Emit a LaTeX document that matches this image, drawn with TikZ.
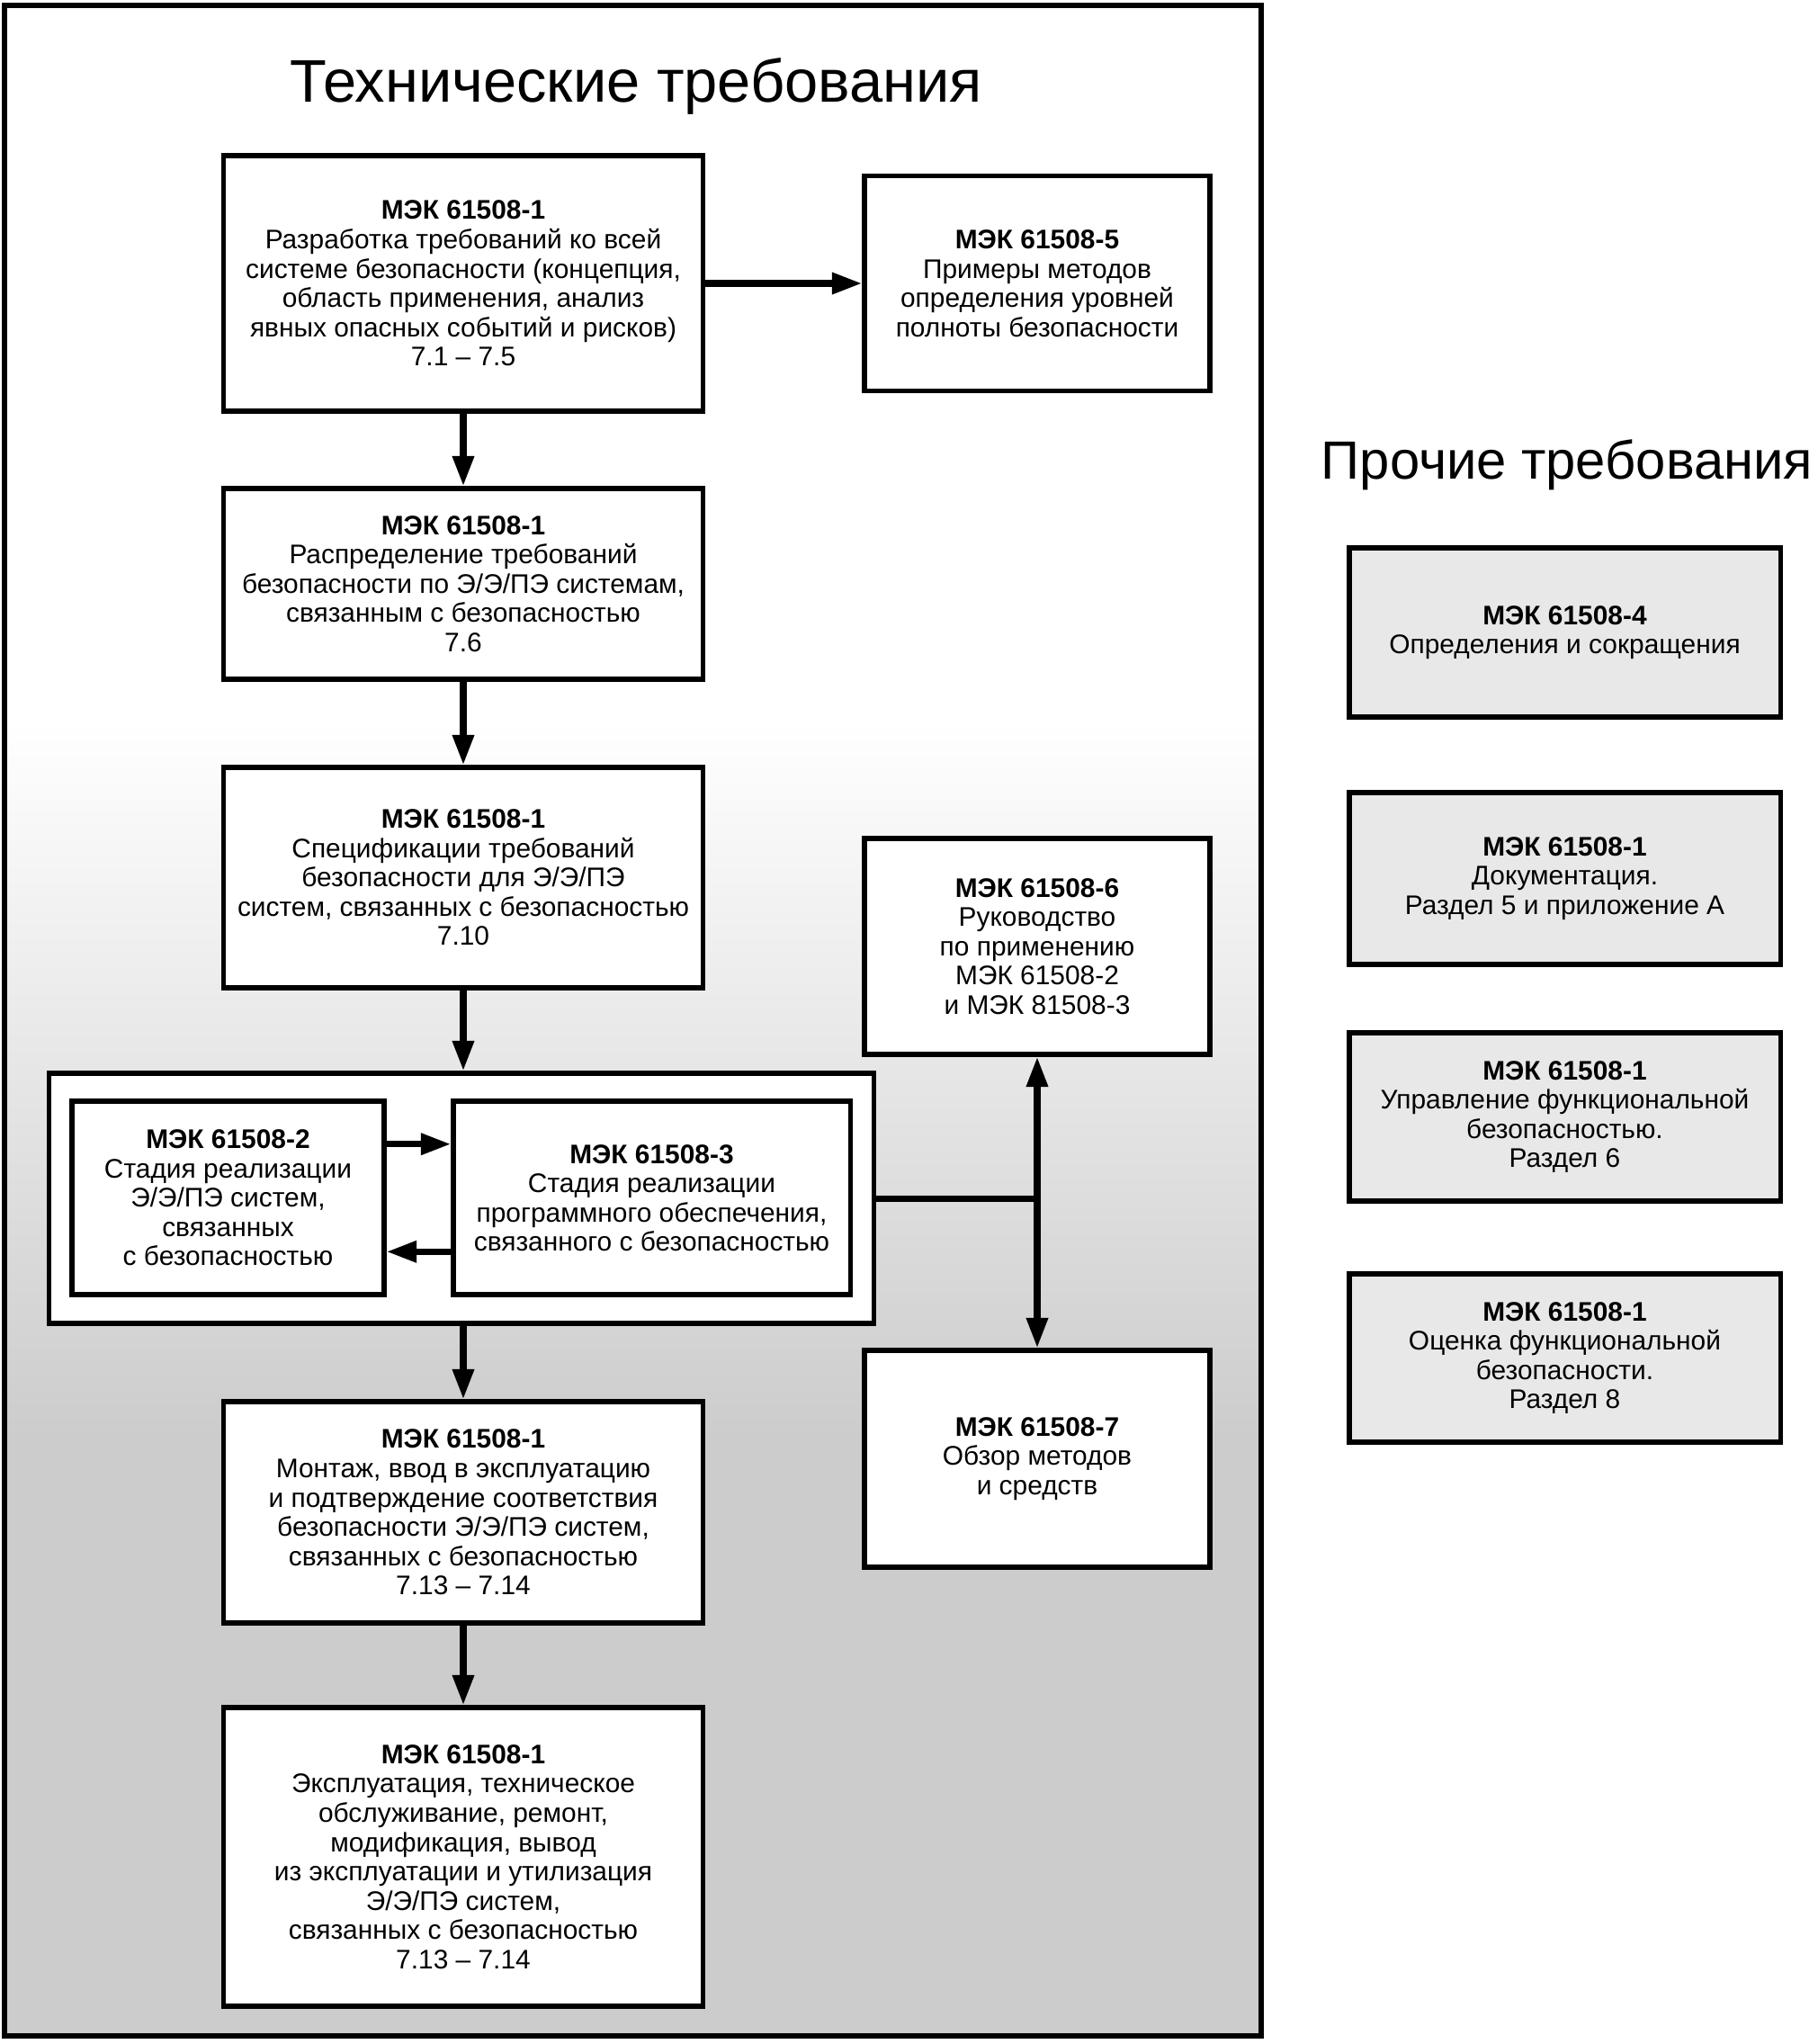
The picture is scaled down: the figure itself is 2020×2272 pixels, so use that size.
\documentclass[tikz,border=0pt]{standalone}
\usepackage{fontspec}
\setmainfont{Liberation Sans}
\usetikzlibrary{arrows.meta}

\tikzset{
  blok/.style={draw, line width=1.5pt, fill=white, align=center, inner sep=0pt,
    font=\fontsize{8.5}{9.25}\selectfont},
  prochee/.style={blok, fill=gray!18, minimum width=4.79cm, minimum height=1.88cm},
  strelka/.style={line width=2pt, -{Triangle[length=9.5pt,width=6.5pt]}},
  liniya/.style={line width=2pt},
}

\begin{document}
\begin{tikzpicture}[x=0.01cm, y=-0.01cm]
  \useasboundingbox (0,0) rectangle (2020,2272);
  % background of the left frame
  \fill[white] (5,6) rectangle (1402,800);
  \shade[top color=white, bottom color=gray!40] (5,800) rectangle (1402,1600);
  \fill[gray!40] (5,1600) rectangle (1402,2263);
  \draw[line width=1.5pt] (5,6) rectangle (1402,2263);

  \node[font=\fontsize{19}{22}\selectfont, anchor=base] (zagl) at (707,113) {Технические требования};
  \node[font=\fontsize{17}{20}\selectfont, anchor=base] (zaglpr) at (1742,532) {Прочие требования};

  \node[blok, minimum width=5.32cm, minimum height=2.84cm] (razr) at (515,315)
    {\textbf{МЭК 61508-1}\\Разработка требований ко всей\\системе безопасности (концепция,\\область применения, анализ\\явных опасных событий и рисков)\\7.1 – 7.5};
  \node[blok, minimum width=3.84cm, minimum height=2.39cm] (primery) at (1153,315)
    {\textbf{МЭК 61508-5}\\Примеры методов\\определения уровней\\полноты безопасности};
  \node[blok, minimum width=5.32cm, minimum height=2.12cm] (raspr) at (515,649)
    {\textbf{МЭК 61508-1}\\Распределение требований\\безопасности по Э/Э/ПЭ системам,\\связанным с безопасностью\\7.6};
  \node[blok, minimum width=5.32cm, minimum height=2.45cm] (spec) at (515,975.5)
    {\textbf{МЭК 61508-1}\\Спецификации требований\\безопасности для Э/Э/ПЭ\\систем, связанных с безопасностью\\7.10};
  \node[blok, minimum width=3.84cm, minimum height=2.40cm] (ruk) at (1153,1052)
    {\textbf{МЭК 61508-6}\\Руководство\\по применению\\МЭК 61508-2\\и МЭК 81508-3};

  \node[blok, minimum width=9.16cm, minimum height=2.78cm] (real) at (513,1332) {};
  \node[blok, minimum width=3.47cm, minimum height=2.15cm] (ee) at (253.5,1331.5)
    {\textbf{МЭК 61508-2}\\Стадия реализации\\Э/Э/ПЭ систем,\\связанных\\с безопасностью};
  \node[blok, minimum width=4.41cm, minimum height=2.15cm] (po) at (724.5,1331.5)
    {\textbf{МЭК 61508-3}\\Стадия реализации\\программного обеспечения,\\связанного с безопасностью};

  \node[blok, minimum width=3.84cm, minimum height=2.41cm] (obzor) at (1153,1621.5)
    {\textbf{МЭК 61508-7}\\Обзор методов\\и средств};
  \node[blok, minimum width=5.32cm, minimum height=2.46cm] (montazh) at (515,1681)
    {\textbf{МЭК 61508-1}\\Монтаж, ввод в эксплуатацию\\и подтверждение соответствия\\безопасности Э/Э/ПЭ систем,\\связанных с безопасностью\\7.13 – 7.14};
  \node[blok, minimum width=5.32cm, minimum height=3.32cm] (ekspl) at (515,2064)
    {\textbf{МЭК 61508-1}\\Эксплуатация, техническое\\обслуживание, ремонт,\\модификация, вывод\\из эксплуатации и утилизация\\Э/Э/ПЭ систем,\\связанных с безопасностью\\7.13 – 7.14};

  % other requirements
  \node[prochee] (opred) at (1739.5,703) {\textbf{МЭК 61508-4}\\Определения и сокращения};
  \node[prochee, minimum height=1.91cm] (dok) at (1739.5,976.5) {\textbf{МЭК 61508-1}\\Документация.\\Раздел 5 и приложение А};
  \node[prochee, minimum height=1.87cm] (uprav) at (1739.5,1241.5) {\textbf{МЭК 61508-1}\\Управление функциональной\\безопасностью.\\Раздел 6};
  \node[prochee, minimum height=1.87cm] (ocenka) at (1739.5,1509.5) {\textbf{МЭК 61508-1}\\Оценка функциональной\\безопасности.\\Раздел 8};

  % connectors
  \draw[strelka] (razr) -- (primery);
  \draw[strelka] (razr) -- (raspr);
  \draw[strelka] (raspr) -- (spec);
  \draw[strelka] (spec.south) -- (spec.south |- real.north);
  \draw[strelka] ([yshift=17pt]ee.east) -- ([yshift=17pt]po.west);
  \draw[strelka] ([yshift=-17pt]po.west) -- ([yshift=-17pt]ee.east);
  \draw[strelka] (real.south -| montazh) -- (montazh.north);
  \draw[strelka] (montazh) -- (ekspl);
  \coordinate (razv) at (1153,1332);
  \draw[liniya] (real.east) -- (razv);
  \draw[strelka] (razv) -- (ruk.south);
  \draw[strelka] (razv) -- (obzor.north);
\end{tikzpicture}
\end{document}
